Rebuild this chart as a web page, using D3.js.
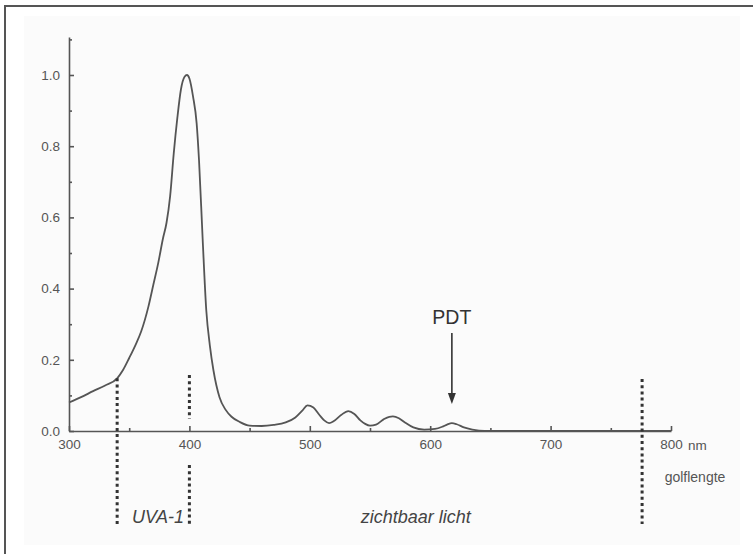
<!DOCTYPE html>
<html>
<head>
<meta charset="utf-8">
<script src="https://cdn.jsdelivr.net/npm/d3@7/dist/d3.min.js"></script>
<style>
  html, body { margin: 0; padding: 0; background: #fff; }
  svg { display: block; }
  text { font-family: "Liberation Sans", Arial, sans-serif; }
</style>
</head>
<body>
<svg id="chart" width="753" height="554"></svg>
<script>
/* ── Data ─────────────────────────────────────────────────────────── */
// wavelength (nm) and relative intensity
const wavelengths = [300, 310, 320, 330, 340, 345, 350, 355, 360, 366, 370, 374, 378, 381,
                     384, 387, 390, 393, 396, 398, 400, 403, 406, 408, 411, 414, 417, 420,
                     425, 430, 435, 442, 450, 460, 470, 480, 488, 494, 498, 503, 508,
                     512, 516, 520, 526, 532, 537, 542, 546, 550, 555, 561, 566, 569, 574,
                     579, 586, 595, 604, 610, 614, 618, 622, 628, 635, 645, 800];
const intensity   = [0.080, 0.095, 0.112, 0.128, 0.148, 0.172, 0.205, 0.240, 0.280, 0.350, 0.410, 0.470, 0.540, 0.585,
                     0.660, 0.780, 0.880, 0.960, 0.995, 1.000, 0.990, 0.940, 0.865, 0.760, 0.540, 0.340, 0.240, 0.170,
                     0.095, 0.060, 0.040, 0.025, 0.015, 0.014, 0.017, 0.024, 0.038, 0.058, 0.072, 0.066, 0.045,
                     0.030, 0.022, 0.028, 0.045, 0.056, 0.048, 0.030, 0.020, 0.015, 0.018, 0.032, 0.040, 0.041, 0.036,
                     0.024, 0.010, 0.004, 0.006, 0.012, 0.018, 0.022, 0.019, 0.010, 0.004, 0.000, 0.000];

const xMajorTicks = [300, 400, 500, 600, 700, 800];
const xMinorTicks = [350, 450, 550, 650, 750];
const yMajorTicks = [0, 0.2, 0.4, 0.6, 0.8, 1.0];
const yMinorTicks = [0.1, 0.3, 0.5, 0.7, 0.9, 1.1];

// dotted band boundaries: wavelength and where each starts on the curve
const boundaryNm  = [340, 400, 776];
const boundaryTop = [0.148, 0.157, 0.146];

const bandLabels  = ["UVA-1", "zichtbaar licht"];
const bandCentres = [374, 588];        // nm, label centre
const pdtNm       = 618;

/* ── Layout ───────────────────────────────────────────────────────── */
const X0 = 69, X1 = 671;   // pixel range for 300..800 nm
const Y0 = 431;            // baseline
const Y_UNIT = 356;        // px for 1.0
const DOT_BOTTOM = 524;    // bottom of dotted boundary lines
const INK = "#555";

const svg = d3.select("#chart");

// frame and faint inner panel
svg.append("rect").attr("x", 24).attr("y", 16).attr("width", 716).attr("height", 529)
   .attr("fill", "#fbfbfb");
svg.append("path").attr("d", "M5,560 V6 H760")
   .attr("fill", "none").attr("stroke", "#555").attr("stroke-width", 2);

const x = d3.scaleLinear().domain([300, 800]).range([X0, X1]);
const y = d3.scaleLinear().domain([0, 1]).range([Y0, Y0 - Y_UNIT]);

/* ── Axes (ticks point inward) ───────────────────────────────────── */
const gx = svg.append("g").attr("transform", `translate(0,${Y0})`)
  .call(d3.axisBottom(x).tickValues(xMajorTicks).tickFormat(d3.format("d"))
        .tickSizeInner(-5).tickSizeOuter(0).tickPadding(8));
svg.append("g").attr("transform", `translate(0,${Y0})`)
  .call(d3.axisBottom(x).tickValues(xMinorTicks).tickFormat("")
        .tickSizeInner(-3).tickSizeOuter(0))
  .select(".domain").remove();

const gy = svg.append("g").attr("transform", `translate(${X0},0)`)
  .call(d3.axisLeft(y.copy().domain([0, 1.107]).range([Y0, Y0 - Y_UNIT * 1.107]))
        .tickValues(yMajorTicks).tickFormat(d3.format(".1f"))
        .tickSizeInner(-5).tickSizeOuter(0).tickPadding(9));
svg.append("g").attr("transform", `translate(${X0},0)`)
  .call(d3.axisLeft(y).tickValues(yMinorTicks).tickFormat("")
        .tickSizeInner(-3).tickSizeOuter(0))
  .select(".domain").remove();

svg.selectAll(".domain, .tick line").attr("stroke", INK).attr("stroke-width", 1.6);
svg.selectAll(".tick text").attr("fill", INK).attr("font-size", 13.5);
gx.selectAll(".tick text").attr("dy", "0.71em");

// axis unit labels
svg.append("text").attr("x", x(800) + 17).attr("y", Y0 + 19)
   .attr("fill", INK).attr("font-size", 13.5).text("nm");
svg.append("text").attr("x", 695).attr("y", Y0 + 51).attr("text-anchor", "middle")
   .attr("fill", INK).attr("font-size", 14).text("golflengte");

/* ── Spectrum ─────────────────────────────────────────────────────── */
const pts = wavelengths.map((w, i) => [w, intensity[i]]);
svg.append("path").datum(pts)
   .attr("fill", "none").attr("stroke", "#555").attr("stroke-width", 1.8)
   .attr("d", d3.line().x(d => x(d[0])).y(d => y(d[1])).curve(d3.curveMonotoneX));

/* ── Dotted band boundaries ───────────────────────────────────────── */
const dotted = s => s.attr("stroke", "#333").attr("stroke-width", 3)
                     .attr("stroke-dasharray", "3,3.2");
boundaryNm.forEach((w, i) => {
  const top = y(boundaryTop[i]);
  if (w === 400) {
    // gap around the "400" tick label
    dotted(svg.append("line").attr("x1", x(w)).attr("x2", x(w)).attr("y1", top).attr("y2", Y0 - 12));
    dotted(svg.append("line").attr("x1", x(w)).attr("x2", x(w)).attr("y1", Y0 + 34).attr("y2", DOT_BOTTOM));
  } else {
    dotted(svg.append("line").attr("x1", x(w)).attr("x2", x(w)).attr("y1", top).attr("y2", DOT_BOTTOM));
  }
});

bandLabels.forEach((t, i) =>
  svg.append("text").attr("x", x(bandCentres[i])).attr("y", 523)
     .attr("text-anchor", "middle").attr("font-style", "italic")
     .attr("fill", "#444").attr("font-size", 18).text(t));

/* ── PDT arrow ────────────────────────────────────────────────────── */
const ax = x(pdtNm);
svg.append("text").attr("x", ax).attr("y", 324).attr("text-anchor", "middle")
   .attr("fill", "#333").attr("font-size", 19.5).text("PDT");
svg.append("line").attr("x1", ax).attr("x2", ax).attr("y1", 333).attr("y2", 396)
   .attr("stroke", "#333").attr("stroke-width", 1.6);
svg.append("path").attr("d", `M${ax - 4},${393} L${ax + 4},${393} L${ax},${404} Z`)
   .attr("fill", "#333");
</script>
</body>
</html>
